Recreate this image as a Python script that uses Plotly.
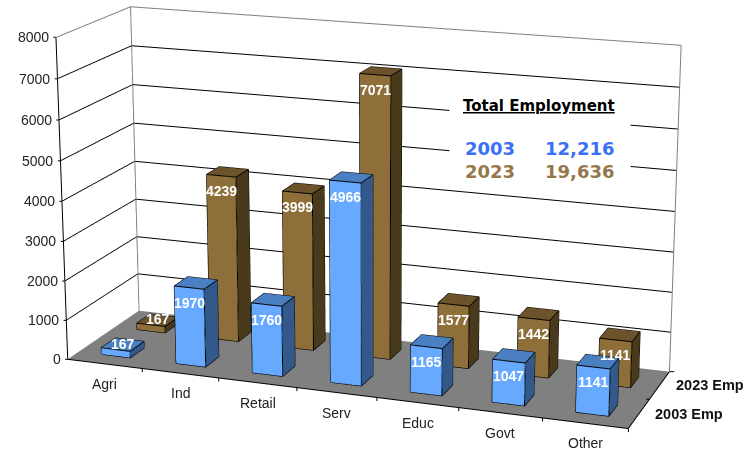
import plotly.graph_objects as go

# Employment by sector, thousands of jobs
categories = ["Agri", "Ind", "Retail", "Serv", "Educ", "Govt", "Other"]
emp_2003 = [167, 1970, 1760, 4966, 1165, 1047, 1141]
emp_2023 = [167, 4239, 3999, 7071, 1577, 1442, 1141]
series_names = ["2003 Emp", "2023 Emp"]
value_ticks = [0, 1000, 2000, 3000, 4000, 5000, 6000, 7000, 8000]

FIG_W, FIG_H = 744, 2000
PAGE_OFFSET = 775     # the tall canvas narrows the 3D field of view; the page shows only this band
HALF = 0.195          # half of a bar's footprint, in category units
X_RANGE = [-0.5, 6.5]
Y_RANGE = [-0.5, 1.5]
Z_RANGE = [0, 8000]

BLUE = dict(front="#66A9FF", top="#4A80C2", side="#33598A")
BROWN = dict(front="#8E6F3A", top="#6C5329", side="#4A3A1C")
FONT = "Liberation Sans"
TICK_COLOR = "#222222"


def box_mesh(values, row, palette):
    """One mesh holding a row of bars, with flat colours per face direction."""
    xs, ys, zs, i, j, k, colors = [], [], [], [], [], [], []
    faces = [
        ((0, 1, 5), (0, 5, 4), "front"),
        ((1, 2, 6), (1, 6, 5), "side"),
        ((4, 5, 6), (4, 6, 7), "top"),
        ((2, 3, 7), (2, 7, 6), "front"),
        ((3, 0, 4), (3, 4, 7), "side"),
    ]
    for c, v in enumerate(values):
        base = len(xs)
        x0, x1 = c - HALF, c + HALF
        y0, y1 = row - HALF, row + HALF
        xs += [x0, x1, x1, x0, x0, x1, x1, x0]
        ys += [y0, y0, y1, y1, y0, y0, y1, y1]
        zs += [0, 0, 0, 0, v, v, v, v]
        for t1, t2, name in faces:
            for t in (t1, t2):
                i.append(base + t[0])
                j.append(base + t[1])
                k.append(base + t[2])
                colors.append(palette[name])
    return go.Mesh3d(
        x=xs, y=ys, z=zs, i=i, j=j, k=k, facecolor=colors, flatshading=True,
        lighting=dict(ambient=1, diffuse=0, specular=0, roughness=1, fresnel=0),
        hoverinfo="skip", showscale=False,
    )


def box_edges(values, row):
    """Black outline of every bar in a row."""
    xs, ys, zs = [], [], []
    for c, v in enumerate(values):
        x0, x1 = c - HALF, c + HALF
        y0, y1 = row - HALF, row + HALF
        xs += [x0, x1, x1, x0, x0, None, x0, x1, x1, x0, x0, None]
        ys += [y0, y0, y1, y1, y0, None, y0, y0, y1, y1, y0, None]
        zs += [0, 0, 0, 0, 0, None, v, v, v, v, v, None]
        for px, py in [(x0, y0), (x1, y0), (x1, y1), (x0, y1)]:
            xs += [px, px, None]
            ys += [py, py, None]
            zs += [0, v, None]
    return go.Scatter3d(x=xs, y=ys, z=zs, mode="lines", hoverinfo="skip",
                        line=dict(color="black", width=2), showlegend=False)


def frame_line(points, color, width):
    xs, ys, zs = zip(*points)
    return go.Scatter3d(x=xs, y=ys, z=zs, mode="lines", hoverinfo="skip",
                        line=dict(color=color, width=width), showlegend=False)


x0, x1 = X_RANGE
y0, y1 = Y_RANGE
z0, z1 = Z_RANGE
# Lines lying exactly on the scene's bounds get clipped, so the frame sits just inside them
xi0, xi1, yi1, zi1 = x0 + 0.002, x1 - 0.002, y1 - 0.002, z1 - 6

fig = go.Figure()
fig.add_trace(box_mesh(emp_2023, 1, BROWN))
fig.add_trace(box_mesh(emp_2003, 0, BLUE))
fig.add_trace(box_edges(emp_2023, 1))
fig.add_trace(box_edges(emp_2003, 0))
# Wall borders in grey, front axis edges in black
fig.add_trace(frame_line([(xi0, y0, zi1), (xi0, yi1, zi1), (xi1, yi1, zi1), (xi1, yi1, z0)], "#808080", 2))
fig.add_trace(frame_line([(xi0, yi1, z0), (xi0, yi1, zi1)], "#808080", 2))
fig.add_trace(frame_line([(xi0, y0, zi1), (xi0, y0, z0), (xi1, y0, z0), (xi1, yi1, z0)], "black", 2))


def label(x, y, z, text, **kw):
    base = dict(x=x, y=y, z=z, text=text, showarrow=False,
                font=dict(family=FONT, size=14, color=TICK_COLOR))
    base.update(kw)
    return base


def tick(x, y, z, ax, ay):
    return dict(x=x, y=y, z=z, text="", showarrow=True, ax=ax, ay=ay,
                arrowhead=0, arrowwidth=1, arrowcolor="black", standoff=0)


notes = []
for t in value_ticks:
    notes.append(tick(x0, y0, t, -4, 0))
    notes.append(label(x0, y0, t, str(t), xanchor="right", xshift=-5))
for c, name in enumerate(categories):
    notes.append(label(c, y0, z0, name, xshift=0, yshift=-20))
    if c < len(categories) - 1:
        notes.append(tick(c + 0.5, y0, z0, 0, 5))
notes.append(tick(x1, y0, z0, 0, 5))
notes.append(tick(x1, 0.5, z0, -5, 0))
notes.append(tick(x1, y1, z0, 6, 0))
for row, name in enumerate(series_names):
    notes.append(label(x1, row, z0, f"<b>{name}</b>", xanchor="left",
                       xshift=14, font=dict(family=FONT, size=14.5, color="#111111")))
for row, values in enumerate([emp_2003, emp_2023]):
    for c, v in enumerate(values):
        short = v < 300
        notes.append(label(c, row - HALF, v, f"<b>{v}</b>",
                           xshift=(7 if short else 0),
                           yshift=(6 if short else -15),
                           font=dict(family=FONT, size=14, color="white")))


def page_y(py):
    return 1 - (py + PAGE_OFFSET) / FIG_H


panel = [
    dict(xref="paper", yref="paper", x=449 / FIG_W, y=page_y(90), xanchor="left",
         yanchor="top", width=180, height=95, text=" ", showarrow=False,
         bgcolor="white", borderpad=0),
    dict(xref="paper", yref="paper", x=539 / FIG_W, y=page_y(106), xanchor="center",
         showarrow=False, text="<b><u>Total Employment</u></b>",
         font=dict(family="DejaVu Sans", size=15, color="black")),
]
for text, xpos, anchor, py, color in [
    ("2003", 463, "left", 148, "#3A70F5"),
    ("12,216", 616, "right", 148, "#3A70F5"),
    ("2023", 463, "left", 171, "#96774A"),
    ("19,636", 616, "right", 171, "#96774A"),
]:
    panel.append(dict(xref="paper", yref="paper", x=xpos / FIG_W, y=page_y(py),
                      xanchor=anchor, showarrow=False, text=f"<b>{text}</b>",
                      font=dict(family="DejaVu Sans", size=18, color=color)))

axis_common = dict(title="", showticklabels=False, ticks="", showspikes=False,
                   zeroline=False, showline=False)
fig.update_layout(
    width=FIG_W, height=FIG_H, margin=dict(l=0, r=0, t=0, b=0, pad=0),
    paper_bgcolor="white", showlegend=False,
    scene=dict(
        domain=dict(x=[0, 1], y=[0, 1]),
        aspectmode="manual", aspectratio=dict(x=1, y=0.2913, z=0.57),
        camera=dict(
            eye=dict(x=1.3442, y=-3.7052, z=1.0924),
            center=dict(x=-0.1428, y=0.4254, z=-0.1609),
            up=dict(x=0, y=0, z=1),
            projection=dict(type="perspective"),
        ),
        xaxis=dict(range=X_RANGE, showgrid=False, showbackground=True,
                   backgroundcolor="white", **axis_common),
        yaxis=dict(range=Y_RANGE, showgrid=False, showbackground=True,
                   backgroundcolor="white", **axis_common),
        zaxis=dict(range=Z_RANGE, tickvals=value_ticks[1:-1], showgrid=True,
                   gridcolor="black", gridwidth=2, showbackground=True,
                   backgroundcolor="#808080", **axis_common),
        annotations=notes,
    ),
    annotations=panel,
)

fig.write_html(
    "out.html",
    config=dict(displayModeBar=False),
    post_script=("document.getElementById('{plot_id}').style.marginTop='-%dpx';"
                 "document.body.style.overflow='hidden';" % PAGE_OFFSET),
)
